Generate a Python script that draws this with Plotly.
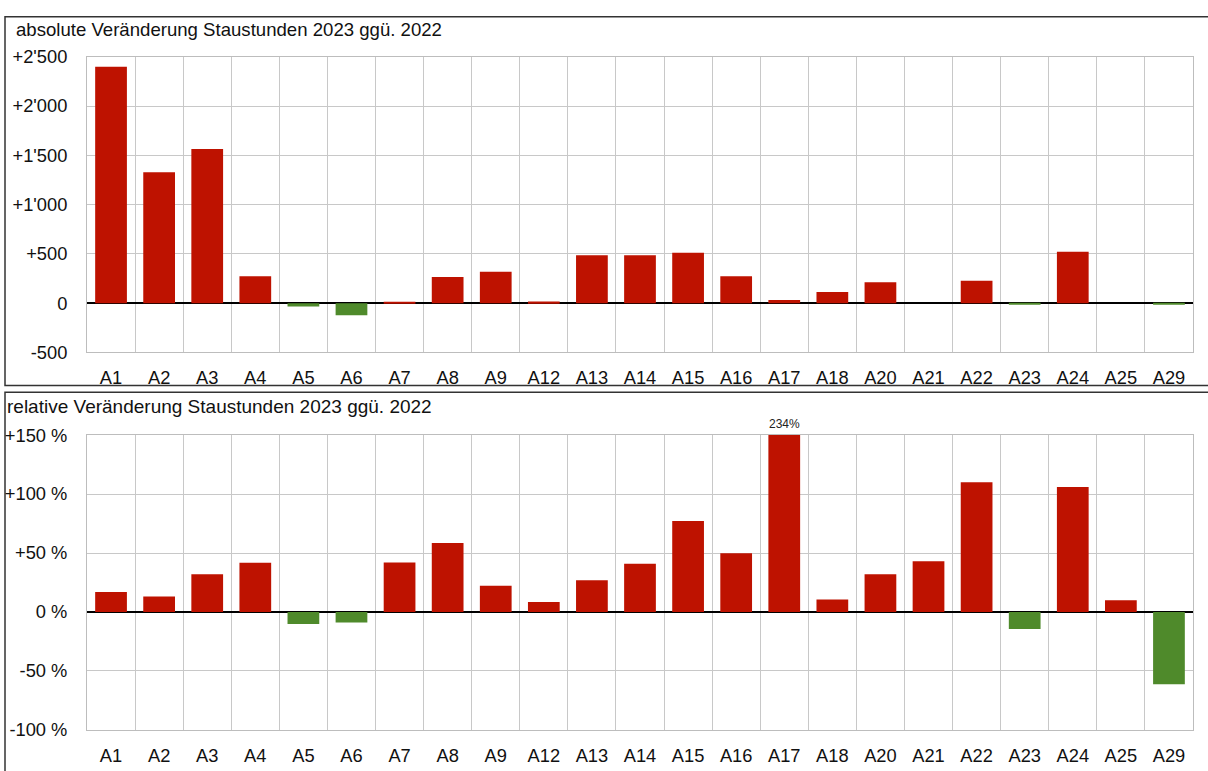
import plotly.graph_objects as go

# motorway sections
roads = ["A1", "A2", "A3", "A4", "A5", "A6", "A7", "A8", "A9", "A12", "A13",
         "A14", "A15", "A16", "A17", "A18", "A20", "A21", "A22", "A23", "A24",
         "A25", "A29"]

# absolute change in congestion hours 2023 vs 2022
abs_change = [2398, 1327, 1564, 273, -33, -122, 5, 265, 318, 17, 486,
              486, 512, 272, 32, 112, 212, 0, 227, -8, 522, 0, -12]

# relative change in % 2023 vs 2022
rel_change = [16.9, 13.1, 31.9, 41.7, -10.1, -9.0, 42.0, 58.6, 22.3, 8.4, 27.0,
              40.9, 77.1, 49.9, 234.0, 10.6, 31.9, 43.0, 110.0, -14.4, 106.0, 10.0, -61.3]

abs_ticks = [-500, 0, 500, 1000, 1500, 2000, 2500]
abs_ticktext = ["-500", "0", "+500", "+1'000", "+1'500", "+2'000", "+2'500"]
rel_ticks = [-100, -50, 0, 50, 100, 150]
rel_ticktext = ["-100 %", "-50 %", "0 %", "+50 %", "+100 %", "+150 %"]

W, H = 1208, 771
RED = "#BE1200"
GREEN = "#4F8A2B"
FONT = "Liberation Sans, Arial, sans-serif"


def px_x(p):
    return p / W


def px_y(p):
    return 1 - p / H


fig = go.Figure()

fig.add_trace(go.Bar(
    x=roads, y=abs_change,
    marker_color=[RED if v >= 0 else GREEN for v in abs_change],
    marker_line_width=0,
    xaxis="x", yaxis="y",
    showlegend=False,
))

fig.add_trace(go.Bar(
    x=roads, y=rel_change,
    marker_color=[RED if v >= 0 else GREEN for v in rel_change],
    marker_line_width=0,
    xaxis="x2", yaxis="y2",
    showlegend=False,
))

xdomain = [px_x(87), px_x(1193)]
axis_common = dict(
    showgrid=True, gridcolor="#c8c8c8", gridwidth=1,
    showline=True, mirror=True, linecolor="#bdbdbd", linewidth=1,
    tickfont=dict(family=FONT, size=18.3, color="#111"),
    fixedrange=True,
)

fig.update_layout(
    width=W, height=H,
    margin=dict(l=0, r=0, t=0, b=0),
    paper_bgcolor="white", plot_bgcolor="white",
    bargap=0.34,
    font=dict(family=FONT, color="#111"),
    xaxis=dict(domain=xdomain, anchor="y", type="category",
               tickson="boundaries", ticks="", ticklabelstandoff=9,
               **axis_common),
    yaxis=dict(domain=[px_y(351), px_y(47)], anchor="x",
               range=[-500, 2500], tickvals=abs_ticks, ticktext=abs_ticktext,
               zeroline=True, zerolinecolor="#000", zerolinewidth=2,
               ticklabelstandoff=15, **axis_common),
    xaxis2=dict(domain=xdomain, anchor="y2", type="category",
                tickson="boundaries", ticks="", ticklabelstandoff=9,
                **axis_common),
    yaxis2=dict(domain=[px_y(739), px_y(436)], anchor="x2",
                range=[-100, 150], tickvals=rel_ticks, ticktext=rel_ticktext,
                zeroline=True, zerolinecolor="#000", zerolinewidth=2,
                ticklabelstandoff=15, **axis_common),
)

# panel frames
fig.add_shape(type="rect", xref="paper", yref="paper",
              x0=px_x(5), x1=1.02, y0=px_y(385), y1=px_y(6),
              line=dict(color="#333", width=1.5), layer="below")
fig.add_shape(type="rect", xref="paper", yref="paper",
              x0=px_x(5), x1=1.02, y0=-0.02, y1=px_y(392),
              line=dict(color="#333", width=1.5), layer="below")

# panel titles
fig.add_annotation(text="absolute Veränderung Staustunden 2023 ggü. 2022",
                   xref="paper", yref="paper", x=px_x(14), y=px_y(19),
                   xanchor="left", yanchor="middle", showarrow=False,
                   font=dict(family=FONT, size=18.6, color="#111"))
fig.add_annotation(text="relative Veränderung Staustunden 2023 ggü. 2022",
                   xref="paper", yref="paper", x=px_x(5), y=px_y(407),
                   xanchor="left", yanchor="middle", showarrow=False,
                   font=dict(family=FONT, size=19, color="#111"))

# label for the clipped A17 bar
i17 = roads.index("A17")
fig.add_annotation(text=f"{rel_change[i17]:.0f}%",
                   x=roads[i17], y=150, xref="x2", yref="y2",
                   yanchor="bottom", yshift=2, showarrow=False,
                   font=dict(family=FONT, size=12, color="#222"))

# pin the graph to the top-left corner of the page
pin = ("document.body.style.margin='0';"
       "var d=document.getElementById('{plot_id}');"
       "d.style.position='fixed';d.style.left='0px';d.style.top='0px';")

fig.write_html("out.html", post_script=pin, config={"displayModeBar": False})
